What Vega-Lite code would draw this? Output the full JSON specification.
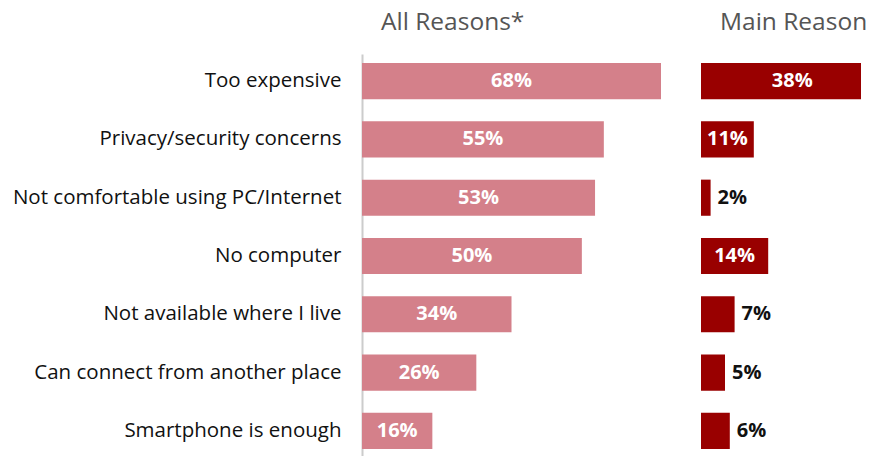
{
  "$schema": "https://vega.github.io/schema/vega-lite/v6.json",
  "padding": {"left": 12, "top": 9, "right": 0, "bottom": 0},
  "background": "white",
  "config": {
    "view": {"stroke": null},
    "font": "Open Sans",
    "concat": {"spacing": 40}
  },
  "data": {
    "values": [
      {"reason": "Too expensive", "all": 0.68, "main": 0.38},
      {"reason": "Privacy/security concerns", "all": 0.55, "main": 0.11},
      {"reason": "Not comfortable using PC/Internet", "all": 0.53, "main": 0.02},
      {"reason": "No computer", "all": 0.50, "main": 0.14},
      {"reason": "Not available where I live", "all": 0.34, "main": 0.07},
      {"reason": "Can connect from another place", "all": 0.26, "main": 0.05},
      {"reason": "Smartphone is enough", "all": 0.16, "main": 0.06}
    ]
  },
  "hconcat": [
    {
      "width": 299,
      "height": 404,
      "title": {"text": "All Reasons*", "anchor": "start", "frame": "group", "dx": 19, "offset": 19, "fontSize": 24.5, "fontWeight": "normal", "color": "#555555", "font": "Open Sans"},
      "encoding": {
        "y": {"field": "reason", "type": "nominal", "sort": null,
          "scale": {"paddingInner": 0.38, "paddingOuter": 0.155},
          "axis": {"title": null, "ticks": false, "labelPadding": 21, "labelFontSize": 20.5, "labelColor": "#111111", "labelLimit": 500, "domainColor": "#cccccc", "domainWidth": 2, "labelFont": "Open Sans"}}
      },
      "layer": [
        {
          "mark": {"type": "bar", "color": "#d4808a"},
          "encoding": {
            "x": {"field": "all", "type": "quantitative", "scale": {"domain": [0, 0.68], "nice": false}, "axis": null}
          }
        },
        {
          "mark": {"type": "text", "color": "white", "fontWeight": "bold", "fontSize": 20, "align": "center", "baseline": "middle", "font": "Open Sans"},
          "encoding": {
            "x": {"field": "all", "type": "quantitative", "scale": {"domain": [0, 1.36], "nice": false}, "axis": null},
            "text": {"field": "all", "type": "quantitative", "format": ".0%"}
          }
        }
      ],
      "resolve": {"scale": {"x": "independent"}}
    },
    {
      "width": 160,
      "height": 404,
      "title": {"text": "Main Reason", "anchor": "start", "frame": "group", "dx": 19, "offset": 19, "fontSize": 24.5, "fontWeight": "normal", "color": "#555555", "font": "Open Sans"},
      "encoding": {
        "y": {"field": "reason", "type": "nominal", "sort": null,
          "scale": {"paddingInner": 0.38, "paddingOuter": 0.155}, "axis": null}
      },
      "layer": [
        {
          "mark": {"type": "bar", "color": "#990000"},
          "encoding": {
            "x": {"field": "main", "type": "quantitative", "scale": {"domain": [0, 0.3333], "nice": false, "clamp": true}, "axis": null}
          }
        },
        {
          "transform": [{"filter": "datum.main >= 0.1"}],
          "mark": {"type": "text", "color": "white", "fontWeight": "bold", "fontSize": 20, "align": "center", "baseline": "middle", "font": "Open Sans"},
          "encoding": {
            "x": {"field": "main", "type": "quantitative", "scale": {"domain": [0, 0.6667], "nice": false}, "axis": null},
            "text": {"field": "main", "type": "quantitative", "format": ".0%"}
          }
        },
        {
          "transform": [{"filter": "datum.main < 0.1"}],
          "mark": {"type": "text", "color": "#111111", "fontWeight": "bold", "fontSize": 20, "align": "left", "baseline": "middle", "dx": 7, "font": "Open Sans"},
          "encoding": {
            "x": {"field": "main", "type": "quantitative", "scale": {"domain": [0, 0.3333], "nice": false}, "axis": null},
            "text": {"field": "main", "type": "quantitative", "format": ".0%"}
          }
        }
      ],
      "resolve": {"scale": {"x": "independent"}}
    }
  ]
}
